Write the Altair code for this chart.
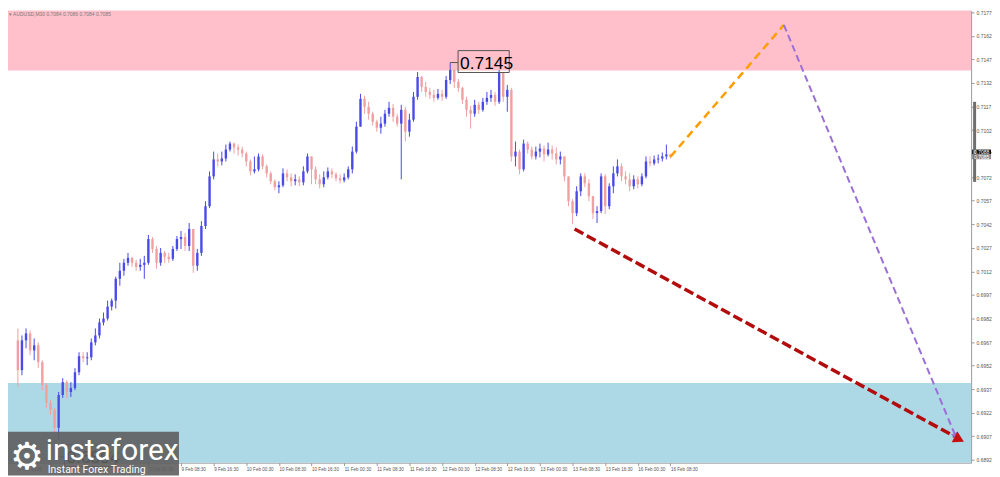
import altair as alt
import pandas as pd

# ---------------- data (AUDUSD M30, one value per hour) ----------------
first_open = 0.69681
closes = [0.69491, 0.69681, 0.69725, 0.69617, 0.69649, 0.69542, 0.69396, 0.69282, 0.69238, 0.69124,
          0.69333, 0.69415, 0.69352, 0.69377, 0.69478, 0.69580, 0.69567, 0.69573, 0.69668, 0.69712,
          0.69795, 0.69820, 0.69896, 0.69934, 0.70073, 0.70124, 0.70175, 0.70206, 0.70175, 0.70149,
          0.70162, 0.70175, 0.70326, 0.70263, 0.70175, 0.70238, 0.70213, 0.70200, 0.70263, 0.70326,
          0.70339, 0.70282, 0.70390, 0.70156, 0.70238, 0.70409, 0.70535, 0.70725, 0.70833, 0.70820,
          0.70839, 0.70896, 0.70934, 0.70909, 0.70896, 0.70871, 0.70820, 0.70757, 0.70770, 0.70852,
          0.70789, 0.70744, 0.70694, 0.70656, 0.70668, 0.70744, 0.70719, 0.70694, 0.70706, 0.70687,
          0.70757, 0.70852, 0.70770, 0.70706, 0.70675, 0.70719, 0.70757, 0.70738, 0.70713, 0.70700,
          0.70719, 0.70770, 0.70883, 0.71042, 0.71219, 0.71168, 0.71124, 0.71073, 0.71035, 0.71061,
          0.71124, 0.71162, 0.71105, 0.71061, 0.71149, 0.71010, 0.71086, 0.71232, 0.71358, 0.71295,
          0.71263, 0.71244, 0.71225, 0.71251, 0.71232, 0.71339, 0.71403, 0.71327, 0.71289, 0.71213,
          0.71149, 0.71124, 0.71181, 0.71149, 0.71200, 0.71225, 0.71244, 0.71200, 0.71390, 0.71232,
          0.71276, 0.70852, 0.70883, 0.70770, 0.70934, 0.70896, 0.70852, 0.70883, 0.70902, 0.70865,
          0.70896, 0.70871, 0.70833, 0.70852, 0.70725, 0.70567, 0.70491, 0.70630, 0.70725, 0.70681,
          0.70599, 0.70491, 0.70504, 0.70725, 0.70535, 0.70662, 0.70744, 0.70789, 0.70725, 0.70706,
          0.70662, 0.70706, 0.70675, 0.70725, 0.70820, 0.70808, 0.70833, 0.70839, 0.70852, 0.70865,
          0.70850]
highs = [0.69757, 0.69712, 0.69757, 0.69744, 0.69693, 0.69668, 0.69554, 0.69409, 0.69301, 0.69250,
         0.69352, 0.69440, 0.69428, 0.69415, 0.69504, 0.69605, 0.69605, 0.69605, 0.69693, 0.69757,
         0.69820, 0.69858, 0.69934, 0.69947, 0.70086, 0.70175, 0.70200, 0.70238, 0.70213, 0.70194,
         0.70200, 0.70219, 0.70352, 0.70339, 0.70282, 0.70269, 0.70250, 0.70238, 0.70282, 0.70345,
         0.70377, 0.70364, 0.70428, 0.70390, 0.70263, 0.70440, 0.70567, 0.70757, 0.70883, 0.70871,
         0.70883, 0.70928, 0.70947, 0.70940, 0.70928, 0.70915, 0.70883, 0.70833, 0.70852, 0.70871,
         0.70865, 0.70801, 0.70757, 0.70706, 0.70694, 0.70776, 0.70770, 0.70744, 0.70738, 0.70725,
         0.70789, 0.70871, 0.70846, 0.70789, 0.70738, 0.70757, 0.70782, 0.70776, 0.70751, 0.70738,
         0.70744, 0.70789, 0.70915, 0.71073, 0.71251, 0.71238, 0.71200, 0.71137, 0.71086, 0.71105,
         0.71149, 0.71200, 0.71187, 0.71124, 0.71181, 0.71168, 0.71124, 0.71263, 0.71390, 0.71365,
         0.71327, 0.71289, 0.71276, 0.71282, 0.71276, 0.71365, 0.71450, 0.71403, 0.71346, 0.71295,
         0.71232, 0.71175, 0.71213, 0.71200, 0.71225, 0.71263, 0.71276, 0.71263, 0.71403, 0.71358,
         0.71308, 0.71289, 0.70947, 0.70896, 0.70959, 0.70947, 0.70915, 0.70915, 0.70934, 0.70921,
         0.70940, 0.70921, 0.70909, 0.70883, 0.70852, 0.70725, 0.70580, 0.70662, 0.70744, 0.70744,
         0.70706, 0.70599, 0.70535, 0.70744, 0.70738, 0.70681, 0.70789, 0.70833, 0.70808, 0.70757,
         0.70744, 0.70732, 0.70725, 0.70744, 0.70852, 0.70852, 0.70858, 0.70865, 0.70877, 0.70928,
         0.70870]
lows = [0.69383, 0.69459, 0.69630, 0.69586, 0.69554, 0.69504, 0.69364, 0.69250, 0.69206, 0.68940,
        0.69050, 0.69314, 0.69314, 0.69320, 0.69364, 0.69459, 0.69542, 0.69523, 0.69554, 0.69649,
        0.69693, 0.69776, 0.69807, 0.69871, 0.69883, 0.70029, 0.70092, 0.70156, 0.70149, 0.70124,
        0.70124, 0.70073, 0.70162, 0.70238, 0.70137, 0.70156, 0.70175, 0.70175, 0.70187, 0.70250,
        0.70263, 0.70250, 0.70250, 0.70111, 0.70124, 0.70219, 0.70390, 0.70523, 0.70706, 0.70789,
        0.70795, 0.70820, 0.70883, 0.70871, 0.70858, 0.70846, 0.70789, 0.70732, 0.70744, 0.70757,
        0.70770, 0.70719, 0.70675, 0.70637, 0.70618, 0.70656, 0.70694, 0.70662, 0.70668, 0.70662,
        0.70668, 0.70744, 0.70675, 0.70675, 0.70649, 0.70656, 0.70706, 0.70713, 0.70694, 0.70681,
        0.70687, 0.70706, 0.70744, 0.70871, 0.71042, 0.71124, 0.71086, 0.71048, 0.71010, 0.70997,
        0.71042, 0.71105, 0.71073, 0.71042, 0.70706, 0.70947, 0.70978, 0.71073, 0.71213, 0.71263,
        0.71232, 0.71219, 0.71200, 0.71213, 0.71206, 0.71219, 0.71314, 0.71289, 0.71263, 0.71187,
        0.71105, 0.71029, 0.71105, 0.71124, 0.71137, 0.71181, 0.71200, 0.71175, 0.71187, 0.71200,
        0.71137, 0.70820, 0.70789, 0.70738, 0.70757, 0.70871, 0.70833, 0.70833, 0.70846, 0.70820,
        0.70852, 0.70833, 0.70801, 0.70801, 0.70694, 0.70535, 0.70421, 0.70472, 0.70599, 0.70656,
        0.70567, 0.70453, 0.70428, 0.70491, 0.70485, 0.70516, 0.70618, 0.70725, 0.70694, 0.70675,
        0.70630, 0.70643, 0.70649, 0.70662, 0.70713, 0.70789, 0.70795, 0.70808, 0.70820, 0.70833,
        0.70839]

tick_idx = [0, 8, 16, 24, 32, 40, 48, 56, 64, 72, 80, 88, 96, 104, 112, 120, 128, 136, 144, 152, 160]
tick_labels = ["5 Feb 2026", "6 Feb 00:30", "6 Feb 08:30", "6 Feb 16:30", "9 Feb 00:30", "9 Feb 08:30",
               "9 Feb 16:30", "10 Feb 00:30", "10 Feb 08:30", "10 Feb 16:30", "11 Feb 00:30",
               "11 Feb 08:30", "11 Feb 16:30", "12 Feb 00:30", "12 Feb 08:30", "12 Feb 16:30",
               "13 Feb 00:30", "13 Feb 08:30", "13 Feb 16:30", "16 Feb 00:30", "16 Feb 08:30"]
price_ticks = [0.6892, 0.6907, 0.6922, 0.6937, 0.6952, 0.6967, 0.6982, 0.6997, 0.7012, 0.7027,
               0.7042, 0.7057, 0.7072, 0.7087, 0.7102, 0.7117, 0.7132, 0.7147, 0.7162, 0.7177]

zone_tops = [0.7190, 0.6941]
zone_bots = [0.7140, 0.6880]
zone_colors = ["#ffc0cb", "#add8e6"]

orange_i = [160, 187.8]
orange_p = [0.7085, 0.7169]
purple_i = [187.8, 229.6]
purple_p = [0.7169, 0.6909]
red_i = [136.5, 229.6]
red_p = [0.7039, 0.6907]

high_i, high_p, high_txt = 106, 0.7145, "0.7145"
low_i, low_p, low_txt = 9, 0.6894, "0.6894"

header_txt = "\u25be  AUDUSD,M30  0.7084 0.7086 0.7084 0.7085"
ask_p, bid_p = 0.7088, 0.7085
ask_txt, bid_txt = "0.7088", "0.7085"

# ---------------- layout ----------------
W, H = 969, 455
xdom = [-1.2, 232.5]
ydom = [0.68902, 0.71782]
px_i = (xdom[1] - xdom[0]) / W      # index units per pixel
px_p = (ydom[1] - ydom[0]) / H      # price per pixel

xscale = alt.Scale(domain=xdom, nice=False, zero=False)
yscale = alt.Scale(domain=ydom, nice=False, zero=False)

label_arr = "[" + ",".join("'%s'" % t for t in tick_labels) + "]"
idx_arr = "[" + ",".join(str(v) for v in tick_idx) + "]"
xaxis = alt.Axis(values=tick_idx, labelExpr=f"{label_arr}[indexof({idx_arr}, datum.value)]",
                 labelAlign="left", labelPadding=1, tickSize=3, labelFontSize=4.6,
                 labelFont="Liberation Sans", labelColor="#555555", domainColor="#9a9a9a",
                 tickColor="#9a9a9a", grid=False, title=None, labelOverlap=False, labelFlush=False)
yaxis = alt.Axis(values=price_ticks, format=".4f", orient="right", labelFontSize=5,
                 labelFont="Liberation Sans", labelColor="#555555", domainColor="#9a9a9a",
                 tickColor="#9a9a9a", tickSize=3, labelPadding=2, grid=False, title=None,
                 labelOverlap=False, labelFlush=False)


def X(f):
    return alt.X(f, type="quantitative", scale=xscale, axis=xaxis)


def Y(f):
    return alt.Y(f, type="quantitative", scale=yscale, axis=yaxis)


opens = [first_open] + closes[:-1]
rows = []
for k, (o, c, h, l) in enumerate(zip(opens, closes, highs, lows)):
    rows.append({"i": k, "open": o, "close": c, "high": max(h, o, c), "low": min(l, o, c),
                 "dir": "up" if c >= o else "down"})
cdf = pd.DataFrame(rows)

zones = alt.Chart(pd.DataFrame({"top": zone_tops, "bot": zone_bots, "col": zone_colors})).mark_rect(
    clip=True).encode(x=alt.value(0), x2=alt.value(W), y=Y("top"), y2="bot",
                      color=alt.Color("col:N", scale=None))

wicks = alt.Chart(cdf).mark_rule(strokeWidth=1).encode(
    x=X("i"), y=Y("low"), y2="high",
    color=alt.Color("dir:N", scale=alt.Scale(domain=["up", "down"], range=["#4a4ae8", "#f0a0a0"]),
                    legend=None))
bodies = alt.Chart(cdf).mark_bar(size=2.4).encode(
    x=X("i"), y=Y("open"), y2="close",
    color=alt.Color("dir:N", scale=alt.Scale(domain=["up", "down"], range=["#0c0cd0", "#f0a0a0"]),
                    legend=None))


def dashed(ii, pp, color, width, dash):
    return alt.Chart(pd.DataFrame({"i": ii, "p": pp})).mark_line(
        color=color, strokeWidth=width, strokeDash=dash, clip=False).encode(x=X("i"), y=Y("p"))


orange = dashed(orange_i, orange_p, "#ff9d00", 2.5, [8, 5])
purple = dashed(purple_i, purple_p, "#9b6fd6", 2, [7, 4])
red = dashed(red_i, red_p, "#b30c0c", 3.5, [10, 4])

# arrowheads at the ends of the forecast lines
ph = alt.Chart(pd.DataFrame({"i": [purple_i[1] + 0.3], "p": [purple_p[1] - 3 * px_p]})).mark_point(
    shape="triangle-up", angle=157, size=55, filled=True, opacity=1, color="#9b6fd6").encode(
    x=X("i"), y=Y("p"))
rh = alt.Chart(pd.DataFrame({"i": [red_i[1] + 5 * px_i], "p": [red_p[1] - 3 * px_p]})).mark_point(
    shape="triangle-up", angle=118, size=150, filled=True, opacity=1, color="#c41010").encode(
    x=X("i"), y=Y("p"))


def price_label(ai, ap, txt):
    box = pd.DataFrame({"x1": [ai + 8 * px_i], "x2": [ai + 60 * px_i],
                        "y1": [ap + 12 * px_p], "y2": [ap - 10 * px_p]})
    conn = pd.DataFrame({"x1": [ai], "x2": [ai + 8 * px_i], "p": [ap]})
    b = alt.Chart(box).mark_rect(fill=None, stroke="#555555", strokeWidth=1, clip=False).encode(
        x=X("x1"), x2="x2", y=Y("y1"), y2="y2")
    c = alt.Chart(conn).mark_rule(color="#555555", strokeWidth=1).encode(x=X("x1"), x2="x2", y=Y("p"))
    t = alt.Chart(pd.DataFrame({"i": [ai + 10 * px_i], "p": [ap], "t": [txt]})).mark_text(
        align="left", baseline="middle", font="Liberation Sans", fontSize=17.5, color="#000000",
        dy=1).encode(x=X("i"), y=Y("p"), text="t:N")
    return [c, b, t]


hl = price_label(high_i, high_p, high_txt)
ll = price_label(low_i + 0.5, low_p, low_txt)

# axis side markers (ask / bid boxes and range bar)
mk = pd.DataFrame({"y1": [ask_p + 2.5 * px_p, bid_p + 2.3 * px_p],
                   "y2": [ask_p - 2.3 * px_p, bid_p - 2.5 * px_p],
                   "p": [ask_p, bid_p], "t": [ask_txt, bid_txt], "col": ["#111111", "#8a8a8a"]})
mk_rect = alt.Chart(mk).mark_rect(clip=False).encode(
    x=alt.value(W + 1), x2=alt.value(W + 20), y=Y("y1"), y2="y2", color=alt.Color("col:N", scale=None))
mk_text = alt.Chart(mk).mark_text(align="left", baseline="middle", fontSize=5, font="Liberation Sans",
                                  color="white").encode(x=alt.value(W + 3), y=Y("p"), text="t:N")
bar = alt.Chart(pd.DataFrame({"a": [0.7120], "b": [0.7069]})).mark_rect(color="#6e6e6e", clip=False).encode(
    x=alt.value(W + 2), x2=alt.value(W + 5), y=Y("a"), y2="b")

header = alt.Chart(pd.DataFrame({"t": [header_txt]})).mark_text(
    align="left", baseline="middle", fontSize=5, font="Liberation Sans", color="#7a7a7a").encode(
    x=alt.value(1), y=alt.value(4), text="t:N")

# logo
logo_bg = alt.Chart(pd.DataFrame({"a": [0]})).mark_rect(color="#5e5e5e", opacity=0.9).encode(
    x=alt.value(0), x2=alt.value(172), y=alt.value(424), y2=alt.value(468))
logo_gear = alt.Chart(pd.DataFrame({"t": ["\u2699"]})).mark_text(
    align="center", baseline="alphabetic", fontSize=38, font="DejaVu Sans", color="white").encode(
    x=alt.value(19), y=alt.value(461), text="t:N")
logo_big = alt.Chart(pd.DataFrame({"t": ["instaforex"]})).mark_text(
    align="left", baseline="alphabetic", fontSize=30, font="Roboto", color="white").encode(
    x=alt.value(38), y=alt.value(452), text="t:N")
logo_small = alt.Chart(pd.DataFrame({"t": ["Instant Forex Trading"]})).mark_text(
    align="left", baseline="alphabetic", fontSize=10.5, font="Roboto", color="white").encode(
    x=alt.value(40), y=alt.value(465), text="t:N")

chart = alt.layer(
    zones, wicks, bodies, orange, purple, red, ph, rh, *hl, *ll, mk_rect, bar, mk_text, header,
    logo_bg, logo_gear, logo_big, logo_small
).properties(width=W, height=H, padding=0, background="white").configure_view(stroke=None)

chart.save("out.html", embed_options={"renderer": "svg", "actions": False})
